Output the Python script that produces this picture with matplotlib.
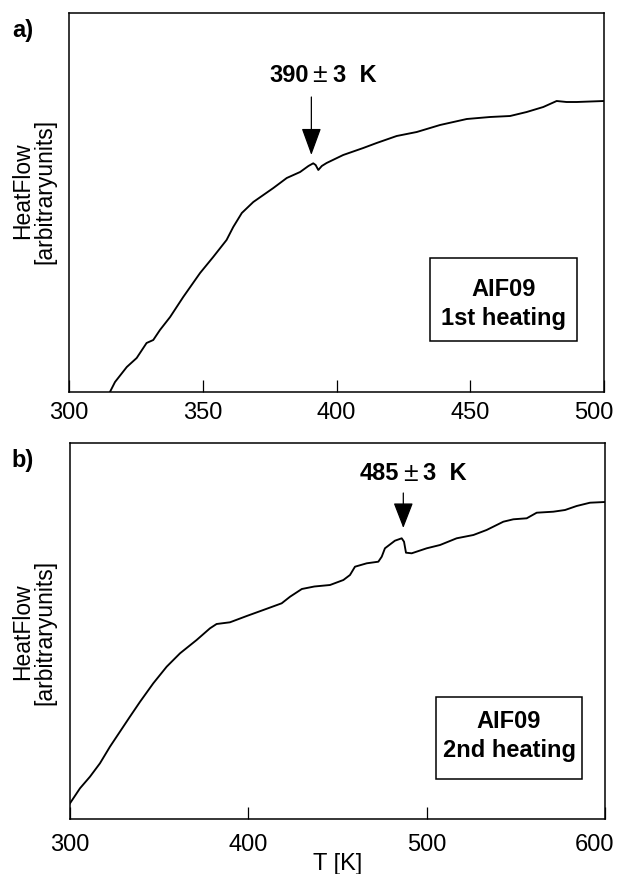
import matplotlib
matplotlib.use("Agg")
import matplotlib.pyplot as plt
from matplotlib.patches import Rectangle
from matplotlib.transforms import ScaledTranslation

plt.rcParams['font.family'] = ['Liberation Sans', 'DejaVu Sans']

# ---- data: panel a (1st heating) ----
T_a = [315.3, 317.2, 321.6, 325.3, 329.0, 331.5, 334.0, 337.8, 342.7, 349.0,
       353.9, 358.9, 361.4, 364.6, 368.9, 376.4, 381.4, 386.4, 389.5, 391.3,
       392.2, 393.2, 394.5, 396.3, 402.5, 410.0, 415.0, 422.5, 430.0, 438.7,
       448.7, 457.4, 464.9, 471.1, 477.3, 482.3, 486.0, 489.8, 500.0]
H_a = [0, 10, 25, 34, 49, 52, 62, 75, 95, 119,
       135, 152, 165, 179, 190, 204, 214, 220, 226, 228.7,
       227, 222, 226, 229, 237, 244, 249, 256, 260, 267,
       273, 275, 276, 280, 285, 291, 290, 290, 291]

# ---- data: panel b (2nd heating) ----
T_b = [300.0, 305.6, 311.2, 316.8, 322.4, 328.0, 333.6, 339.3, 346.7, 354.2,
       361.7, 371.0, 378.5, 382.2, 389.7, 399.1, 408.4, 418.7, 423.4, 430.0,
       437.0, 445.8, 453.3, 457.0, 459.8, 466.4, 472.9, 474.8, 476.6, 482.2,
       486.0, 487.3, 488.4, 491.6, 500.0, 507.5, 516.8, 526.2, 533.6, 543.0,
       548.6, 556.1, 561.7, 571.0, 577.6, 584.1, 591.6, 600.0]
H_b = [15.7, 30.7, 42.3, 55.7, 72.3, 87.3, 102.3, 117.3, 135.7, 152.3,
       165.7, 179, 190.7, 195, 196.7, 203, 209, 215.7, 222.3, 230,
       232.5, 234, 239, 244, 252.3, 255.7, 257.3, 262.3, 270.7, 278.3,
       280.7, 277.3, 266.3, 265.7, 270.7, 274, 280.7, 284, 289, 297.3,
       299.7, 300.7, 306.3, 307.3, 309, 313, 316.3, 317]

xticks_a = [300, 350, 400, 450, 500]
xticks_b = [300, 400, 500, 600]

# transition annotations: arrow T, arrow tip/tail heights, label anchor (at the ± sign)
trans_a = dict(T=390.6, tip=237, tail=295, lx=393.8, ly=317, val='390', err='3  K')
trans_b = dict(T=486.9, tip=291, tail=326, lx=490.7, ly=345, val='485', err='3  K')

fig = plt.figure(figsize=(6.18, 8.74), dpi=100)
ax_a = fig.add_axes([69/618, 1-392/874, 535/618, 379/874])
ax_b = fig.add_axes([70/618, 1-819/874, 535/618, 376/874])

def style(ax, ticks, xlim, ylim, pad):
    ax.set_xlim(*xlim)
    ax.set_ylim(*ylim)
    ax.set_xticks(ticks)
    ax.set_yticks([])
    ax.tick_params(axis='x', direction='in', length=8.6, width=0.9,
                   labelsize=17, pad=pad, top=False)
    for s in ax.spines.values():
        s.set_linewidth(1.1)
    # last tick label sits slightly inside the figure edge
    lab = ax.get_xticklabels()[-1]
    lab.set_transform(lab.get_transform() +
                      ScaledTranslation(-10/100, 0, fig.dpi_scale_trans))

ax_a.plot(T_a, H_a, color='black', lw=1.35)
style(ax_a, xticks_a, (300, 500), (0, 379), 7.5)
ax_b.plot(T_b, H_b, color='black', lw=1.35)
style(ax_b, xticks_b, (300, 600), (0, 376), 11)

def transition(ax, d, head_len):
    kw = dict(arrowstyle='-|>,head_length=%.2f,head_width=0.62' % head_len,
              color='black', lw=0.9, shrinkA=0, shrinkB=0)
    ax.annotate('', xy=(d['T'], d['tip']), xytext=(d['T'], d['tail']),
                arrowprops=kw)
    ax.annotate(d['val'], xy=(d['lx'], d['ly']), xytext=(-8.2, 0),
                textcoords='offset points', ha='right', va='center',
                fontsize=17, fontweight='bold')
    ax.text(d['lx'], d['ly'], '±', ha='center', va='center', fontsize=19)
    ax.annotate(d['err'], xy=(d['lx'], d['ly']), xytext=(9.6, 0),
                textcoords='offset points', ha='left', va='center',
                fontsize=17, fontweight='bold')

transition(ax_a, trans_a, 1.7)
transition(ax_b, trans_b, 1.6)

# boxes
ax_a.add_patch(Rectangle((0.6748, 0.1354), 0.949-0.6748, 0.3528-0.1354,
                         transform=ax_a.transAxes, fill=False, lw=1.1, ec='black'))
ax_a.text(0.812, 0.2533, 'AIF09', transform=ax_a.transAxes, ha='center',
          va='baseline', fontsize=17, fontweight='bold')
ax_a.text(0.812, 0.1768, '1st heating', transform=ax_a.transAxes, ha='center',
          va='baseline', fontsize=17, fontweight='bold')

ax_b.add_patch(Rectangle((0.684, 0.1064), 0.957-0.684, 0.3237-0.1064,
                         transform=ax_b.transAxes, fill=False, lw=1.1, ec='black'))
ax_b.text(0.8206, 0.2412, 'AIF09', transform=ax_b.transAxes, ha='center',
          va='baseline', fontsize=17, fontweight='bold')
ax_b.text(0.8206, 0.1657, '2nd heating', transform=ax_b.transAxes, ha='center',
          va='baseline', fontsize=17, fontweight='bold')

# axis labels
ylabel = 'HeatFlow\n[arbitraryunits]'
fig.text(34/618, 1-191/874, ylabel, rotation=90, ha='center', va='center',
         multialignment='center', fontsize=16.5, linespacing=0.95)
fig.text(34/618, 1-632/874, ylabel, rotation=90, ha='center', va='center',
         multialignment='center', fontsize=16.5, linespacing=0.95)
ax_b.set_xlabel('T [K]', fontsize=17)
ax_b.xaxis.set_label_coords(0.5, -0.09)

# panel letters
fig.text(22.5/618, 1-31/874, 'a)', ha='center', va='center', fontsize=17,
         fontweight='bold')
fig.text(22.5/618, 1-461/874, 'b)', ha='center', va='center', fontsize=17,
         fontweight='bold')

fig.savefig('out.png', dpi=100)
